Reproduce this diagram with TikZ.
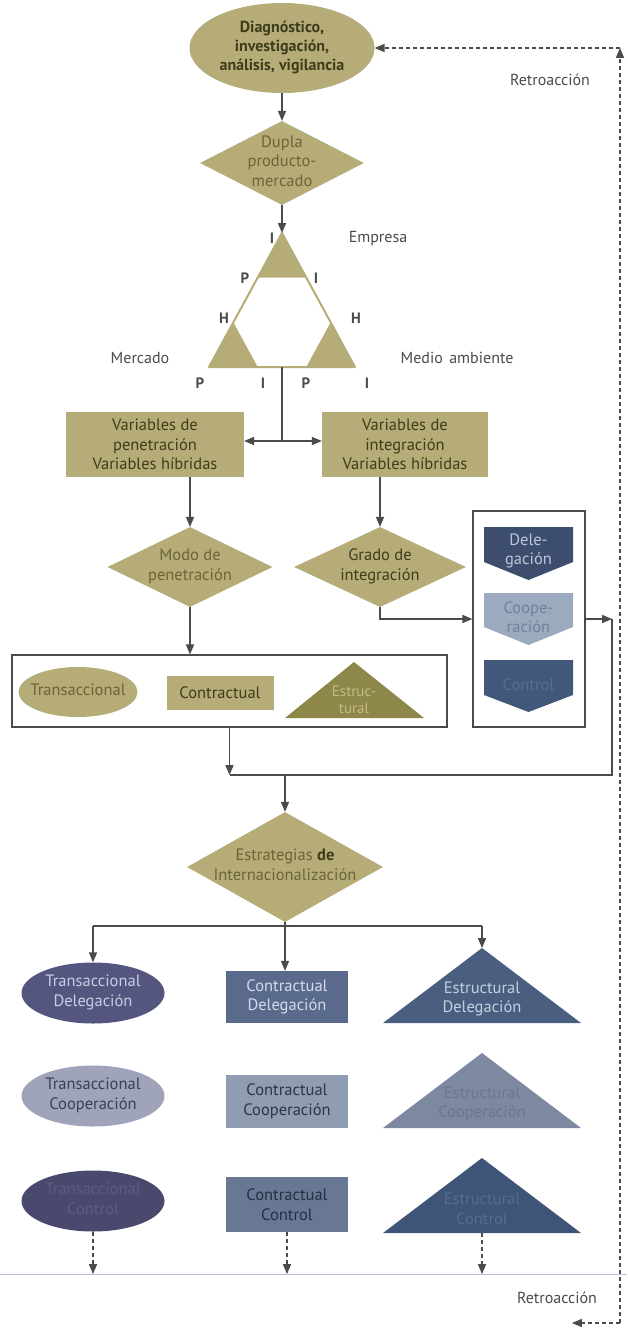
\documentclass[tikz,border=0pt]{standalone}
\usepackage{fontspec}
\setmainfont{PT Sans}
\usetikzlibrary{arrows}
\usetikzlibrary{shapes.geometric, positioning}

\definecolor{khaki}{HTML}{B6AC78}
\definecolor{khakitext}{HTML}{3E3D1B}
\definecolor{khakisoft}{HTML}{6B6535}
\definecolor{olivedark}{HTML}{8D884A}
\definecolor{olivelight}{HTML}{C4BB80}
\definecolor{linegray}{HTML}{4B4B48}
\definecolor{hlineblue}{HTML}{B9C1D9}
\definecolor{ellA}{HTML}{545680}
\definecolor{ellAtext}{HTML}{C9CCE2}
\definecolor{recA}{HTML}{5A6A8D}
\definecolor{recAtext}{HTML}{D5DAE6}
\definecolor{triA}{HTML}{4A5F80}
\definecolor{triAtext}{HTML}{C3CEDF}
\definecolor{ellB}{HTML}{A0A4BA}
\definecolor{ellBtext}{HTML}{394058}
\definecolor{recB}{HTML}{8F9CB1}
\definecolor{recBtext}{HTML}{2E3546}
\definecolor{triB}{HTML}{7C89A0}
\definecolor{triBtext}{HTML}{6B778F}
\definecolor{ellC}{HTML}{48496D}
\definecolor{ellCtext}{HTML}{5A5C80}
\definecolor{recC}{HTML}{687793}
\definecolor{recCtext}{HTML}{273042}
\definecolor{triC}{HTML}{3F5578}
\definecolor{triCtext}{HTML}{566C8C}
\definecolor{delfill}{HTML}{3D4D6E}
\definecolor{deltext}{HTML}{BCC6D8}
\definecolor{coopfill}{HTML}{9CAABF}
\definecolor{cooptext}{HTML}{738198}
\definecolor{ctrlfill}{HTML}{42587B}
\definecolor{ctrltext}{HTML}{566E92}

\newcommand{\zw}[1]{\makebox[0pt]{\raisebox{-0.25em}[0pt][0pt]{\begin{tabular}[c]{@{}c@{}}#1\end{tabular}}}}

\begin{document}
\begin{tikzpicture}[x=1pt, y=-1pt, >=triangle 45,
				   every node/.style={align=center, inner sep=0pt, font=\fontsize{16.5}{19.5}\selectfont},
				   box/.style={rectangle, fill=khaki, text=khakitext, minimum height=65pt},
				   ell/.style={ellipse, minimum width=143pt, minimum height=61pt},
				   rec/.style={rectangle, minimum width=122pt},
				   dia/.style={diamond, fill=khaki},
				   frame/.style={rectangle, draw=linegray, line width=1.3pt},
				   conn/.style={draw=linegray, line width=1.3pt},
				   fb/.style={draw=linegray, line width=1.3pt, dash pattern=on 4pt off 3pt},
				   lettr/.style={text=linegray, font=\fontsize{15}{17}\selectfont\bfseries},
				   side/.style={text=linegray, font=\fontsize{16}{19}\selectfont}]
\useasboundingbox (0,0) rectangle (627,1330);

\node[ellipse, fill=khaki, text=khakitext, minimum width=185pt, minimum height=90pt,
      font=\fontsize{16}{19}\selectfont\bfseries] (diag) at (282,48)
	{\zw{Diagnóstico,\\investigación,\\análisis, vigilancia}};
\node[dia, minimum width=164pt, minimum height=84pt, text=khakisoft] (dupla) at (282,163)
	{\zw{Dupla\\producto-\\mercado}};

\coordinate (tapex) at (282,233);
\coordinate (tleft) at (209,367);
\coordinate (tright) at (355,367);
\coordinate (tbase) at (282,367);
\fill[khaki] (tapex) -- (257.7,277.7) -- (306.3,277.7) -- cycle;
\fill[khaki] (tleft) -- (233.3,322.3) -- (257.7,367) -- cycle;
\fill[khaki] (tright) -- (330.7,322.3) -- (306.3,367) -- cycle;
\draw[khaki, line width=2pt, line join=round] (tapex) -- (tleft) -- (tright) -- cycle;

\node[lettr] (ia) at (272,238) {I};
\node[side] (empresa) at (378,238) {Empresa};
\node[lettr] (pa) at (245,278) {P};
\node[lettr] (ib) at (316,278) {I};
\node[lettr] (ha) at (224,318) {H};
\node[lettr] (hb) at (356,318) {H};
\node[side] (mercado) at (140,358) {Mercado};
\node[side] (medio) at (457,358) {Medio\hspace{0.4em}ambiente};
\node[lettr] (pb) at (200,383) {P};
\node[lettr] (ic) at (263,383) {I};
\node[lettr] (pc) at (306,383) {P};
\node[lettr] (id) at (367,383) {I};

\node[box, minimum width=178pt] (pen) at (155,444.5) {Variables de\\penetración\\Variables híbridas};
\node[box, minimum width=166pt] (integ) at (405,444.5) {Variables de\\integración\\Variables híbridas};
\coordinate (split) at (282,441);

\node[dia, minimum width=165pt, minimum height=80pt, text=khakisoft] (modo) at (190,567)
	{\zw{Modo de\\penetración}};
\node[dia, minimum width=172pt, minimum height=80pt, text=khakitext] (grado) at (380,567)
	{\zw{Grado de\\integración}};

\node[frame, minimum width=435pt, minimum height=72pt] (modes) at (229.5,691) {};
\node[ellipse, fill=khaki, text=khakisoft, minimum width=119pt, minimum height=50pt] (trans) at (78,692)
	{\zw{Transaccional}};
\node[rectangle, fill=khaki, text=khakitext, minimum width=107pt, minimum height=34pt] (contr) at (220,693)
	{Contractual};
\coordinate (estapex) at (354,662);
\fill[olivedark] (estapex) -- (424,718) -- (285,718) -- cycle;
\node[text=olivelight, font=\fontsize{15}{17}\selectfont] (estr) at (354,700) {Estruc-\\tural};

\node[frame, minimum width=112pt, minimum height=216pt] (grp) at (529,619) {};
\fill[delfill] (484,527) -- (573,527) -- (573,562) -- (528.5,580) -- (484,562) -- cycle;
\node[text=deltext] (dele) at (528.5,551) {Dele-\\gación};
\fill[coopfill] (484,593) -- (573,593) -- (573,627) -- (528.5,645) -- (484,627) -- cycle;
\node[text=cooptext] (coope) at (528.5,617) {Coope-\\ración};
\fill[ctrlfill] (484,660) -- (573,660) -- (573,695) -- (528.5,712) -- (484,695) -- cycle;
\node[text=ctrltext] (ctrl) at (528.5,685) {Control};

\coordinate (rc) at (612,619);
\coordinate (join) at (229.5,775);

\node[dia, minimum width=196pt, minimum height=110pt, text=khakisoft] (strat) at (285,867)
	{\zw{Estrategias {\color{khakitext}\bfseries de}\\Internacionalización}};
\coordinate (bl) at (93,926);
\coordinate (brr) at (482,926);

\node[ell, fill=ellA, text=ellAtext] (td) at (93,993) {\zw{Transaccional\\Delegación}};
\node[rec, fill=recA, text=recAtext, minimum height=52pt] (cd) at (287,997) {Contractual\\Delegación};
\coordinate (sdapex) at (482,948);
\fill[triA] (sdapex) -- (581,1023) -- (383,1023) -- cycle;
\node[text=triAtext] (sd) at (482,999) {Estructural\\Delegación};

\node[ell, fill=ellB, text=ellBtext] (tc) at (93,1096) {\zw{Transaccional\\Cooperación}};
\node[rec, fill=recB, text=recBtext, minimum height=53pt] (cc) at (287,1101.5) {Contractual\\Cooperación};
\coordinate (scapex) at (482,1053);
\fill[triB] (scapex) -- (581,1128) -- (383,1128) -- cycle;
\node[text=triBtext] (sc) at (482,1104) {Estructural\\Cooperación};

\node[ell, fill=ellC, text=ellCtext] (tk) at (93,1201) {\zw{Transaccional\\Control}};
\node[rec, fill=recC, text=recCtext, minimum height=55pt] (ck) at (287,1204.5) {Contractual\\Control};
\coordinate (skapex) at (482,1158);
\coordinate (skbase) at (482,1233);
\fill[triC] (skapex) -- (581,1233) -- (383,1233) -- cycle;
\node[text=triCtext] (sk) at (482,1209) {Estructural\\Control};

\coordinate (hl) at (0,1274);
\coordinate (hr) at (627,1274);
\draw[hlineblue, line width=0.8pt] (hl) -- (hr);

\coordinate (fba) at (572,1323);
\coordinate (fbb) at (620,1323);
\coordinate (fbc) at (620,48);
\node[side] (retroa) at (550,80) {Retroacción};
\node[side] (retrob) at (557,1298) {Retroacción};

\draw[conn,->] (diag) -- (dupla);
\draw[conn,->] (dupla) -- (tapex);
\draw[conn] (tbase) -- (split);
\draw[conn,<->] (pen.east |- split) -- (integ.west |- split);
\draw[conn,->] (modo.north |- pen.south) -- (modo.north);
\draw[conn,->] (grado.north |- integ.south) -- (grado.north);
\draw[conn,->] (modo.south) -- (modo.south |- modes.north);
\draw[conn,->] (grado.south) |- (grp.west);
\draw[conn,->] (grp.east) -- (rc);
\draw[conn] (rc) |- (join);
\draw[conn,->] (modes.south) -- (join);
\draw[conn,->] (strat.north |- join) -- (strat.north);
\draw[conn] (strat.south) -- (strat.south |- bl);
\draw[conn] (bl) -- (brr);
\draw[conn,->] (bl) -- (td.north);
\draw[conn,->] (strat.south |- bl) -- (strat.south |- cd.north);
\draw[conn,->] (brr) -- (sdapex);
\draw[fb,->] (tk.south) -- (tk.south |- hl);
\draw[fb,->] (ck.south) -- (ck.south |- hl);
\draw[fb,->] (skbase) -- (skbase |- hl);
\draw[fb,<-] (fba) -- (fbb);
\draw[fb,->] (fbb) -- (fbc);
\draw[fb,->] (fbc) -- (fbc -| diag.east);
\end{tikzpicture}
\end{document}
